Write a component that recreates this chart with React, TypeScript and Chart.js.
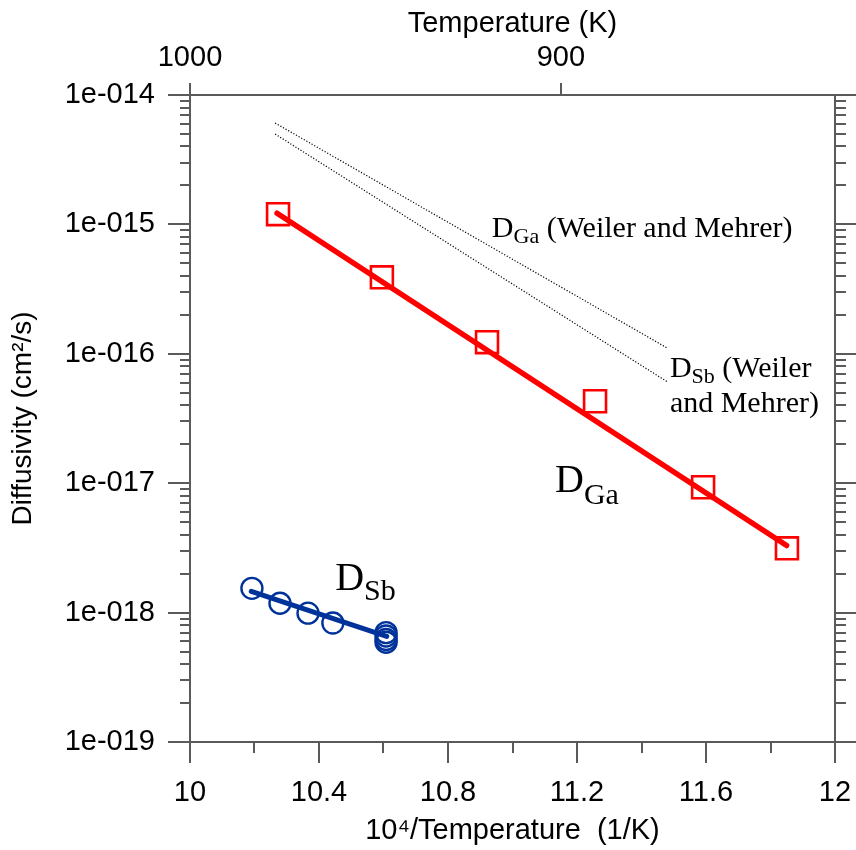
import React, { useEffect, useRef } from 'react';
import { Chart, registerables } from 'chart.js';

Chart.register(...registerables);

// ---- data ----
const gaX = [10.273, 10.595, 10.921, 11.256, 11.591, 11.851];
const gaY = [1.2e-15, 3.9e-16, 1.23e-16, 4.3e-17, 9.3e-18, 3.14e-18];
const gaFitX = [10.27, 11.85];
const gaFitY = [1.22e-15, 3.3e-18];

const sbX = [10.192, 10.279, 10.366, 10.443, 10.608, 10.608, 10.608, 10.608];
const sbY = [1.54e-18, 1.18e-18, 9.9e-19, 8.3e-19, 7.0e-19, 6.6e-19, 6.2e-19, 5.9e-19];
const sbFitX = [10.19, 10.61];
const sbFitY = [1.46e-18, 6.55e-19];

const wmGaX = [10.264, 11.482];
const wmGaY = [6.07e-15, 1.1e-16];
const wmSbX = [10.264, 11.482];
const wmSbY = [4.99e-15, 6.03e-17];

// ---- axes ----
const xMin = 10;
const xMax = 12;
const xMajorTicks = [10, 10.4, 10.8, 11.2, 11.6, 12];
const xTickLabels = ['10', '10.4', '10.8', '11.2', '11.6', '12'];
const xMinorTicks = [10.2, 10.6, 11.0, 11.4, 11.8];
const yMin = 1e-19;
const yMax = 1e-14;
const yDecades = [1e-19, 1e-18, 1e-17, 1e-16, 1e-15, 1e-14];
const yTickLabels = ['1e-019', '1e-018', '1e-017', '1e-016', '1e-015', '1e-014'];
const topTickValues = [10, 11.15];
const topTickLabels = ['1000', '900'];

const xTitle = '10\u2074/Temperature  (1/K)';
const yTitle = 'Diffusivity (cm\u00b2/s)';
const topTitle = 'Temperature (K)';

// annotation anchors (data coordinates of the baseline start)
const annWmGa = { main: 'D', sub: 'Ga', rest: ' (Weiler and Mehrer)', x: 10.936, y: 7.98e-16 };
const annWmSb = { main: 'D', sub: 'Sb', rest: ' (Weiler', x: 11.488, y: 6.59e-17 };
const annWmSb2 = { text: 'and Mehrer)', x: 11.488, y: 3.53e-17 };
const annGa = { main: 'D', sub: 'Ga', rest: '', x: 11.132, y: 8.5e-18 };
const annSb = { main: 'D', sub: 'Sb', rest: '', x: 10.45, y: 1.486e-18 };

const SANS = '"Liberation Sans", Arial, sans-serif';
const SERIF = '"Liberation Serif", "Times New Roman", serif';
const RED = '#ff0000';
const BLUE = '#003399';
const AXIS = '#5a5a5a';

function pts(xs: number[], ys: number[]) {
  return xs.map((x, i) => ({ x, y: ys[i] }));
}

const framePlugin = {
  id: 'frame',
  afterDraw(chart: any) {
    const { ctx, chartArea: a, scales } = chart;
    const xs = scales.x;
    const ys = scales.y;
    ctx.save();
    ctx.strokeStyle = AXIS;
    ctx.lineWidth = 2;
    ctx.beginPath();
    ctx.rect(a.left, a.top, a.right - a.left, a.bottom - a.top);
    for (let d = -19; d <= -14; d++) {
      for (let m = 1; m <= 9; m++) {
        if (d === -14 && m > 1) break;
        const v = m * Math.pow(10, d);
        const py = Math.round(ys.getPixelForValue(v));
        const major = m === 1;
        ctx.moveTo(a.left - (major ? 22 : 10), py);
        ctx.lineTo(a.left, py);
        ctx.moveTo(a.right, py);
        ctx.lineTo(a.right + (major ? 21 : 11), py);
      }
    }
    xMajorTicks.forEach((v) => {
      const px = Math.round(xs.getPixelForValue(v));
      ctx.moveTo(px, a.bottom);
      ctx.lineTo(px, a.bottom + 21);
    });
    xMinorTicks.forEach((v) => {
      const px = Math.round(xs.getPixelForValue(v));
      ctx.moveTo(px, a.bottom);
      ctx.lineTo(px, a.bottom + 11);
    });
    topTickValues.forEach((v) => {
      const px = Math.round(xs.getPixelForValue(v));
      ctx.moveTo(px, a.top);
      ctx.lineTo(px, a.top - 12);
    });
    ctx.stroke();
    ctx.restore();

    // annotations
    ctx.save();
    ctx.fillStyle = '#000';
    ctx.textBaseline = 'alphabetic';
    ctx.textAlign = 'left';
    const drawSub = (o: any, mainPx: number, subPx: number, dy: number) => {
      const x = xs.getPixelForValue(o.x);
      const y = ys.getPixelForValue(o.y);
      ctx.font = `${mainPx}px ${SERIF}`;
      ctx.fillText(o.main, x, y);
      let w = ctx.measureText(o.main).width;
      ctx.font = `${subPx}px ${SERIF}`;
      ctx.fillText(o.sub, x + w, y + dy);
      w += ctx.measureText(o.sub).width;
      if (o.rest) {
        ctx.font = `${mainPx}px ${SERIF}`;
        ctx.fillText(o.rest, x + w, y);
      }
    };
    drawSub(annWmGa, 30, 22, 6);
    drawSub(annWmSb, 30, 22, 6);
    ctx.font = `30px ${SERIF}`;
    ctx.fillText(annWmSb2.text, xs.getPixelForValue(annWmSb2.x), ys.getPixelForValue(annWmSb2.y));
    drawSub(annGa, 40, 30, 12);
    drawSub(annSb, 40, 30, 10);
    ctx.restore();
  },
};

export default function App() {
  const ref = useRef<HTMLCanvasElement | null>(null);
  useEffect(() => {
    document.body.style.margin = '0';
    const canvas = ref.current;
    if (!canvas) return;
    const chart = new Chart(canvas, {
      type: 'scatter',
      data: {
        datasets: [
          { label: 'Ga fit', data: pts(gaFitX, gaFitY), showLine: true, borderColor: RED, borderWidth: 5.5, borderCapStyle: 'round', pointRadius: 0 },
          { label: 'Sb fit', data: pts(sbFitX, sbFitY), showLine: true, borderColor: BLUE, borderWidth: 5, borderCapStyle: 'round', pointRadius: 0 },
          { label: 'Ga', data: pts(gaX, gaY), pointStyle: 'rect', pointRadius: 15.5, borderColor: RED, borderWidth: 2.6, backgroundColor: 'rgba(0,0,0,0)' },
          { label: 'Sb', data: pts(sbX, sbY), pointStyle: 'circle', pointRadius: 10.5, borderColor: BLUE, borderWidth: 2.4, backgroundColor: 'rgba(0,0,0,0)' },
          { label: 'Ga W&M', data: pts(wmGaX, wmGaY), showLine: true, borderColor: '#000', borderWidth: 1.2, borderDash: [1.2, 1.8], pointRadius: 0 },
          { label: 'Sb W&M', data: pts(wmSbX, wmSbY), showLine: true, borderColor: '#000', borderWidth: 1.2, borderDash: [1.2, 1.8], pointRadius: 0 },
        ],
      },
      options: {
        responsive: false,
        animation: false,
        devicePixelRatio: 1,
        layout: { padding: 0 },
        plugins: { legend: { display: false }, tooltip: { enabled: false } },
        scales: {
          x: {
            type: 'linear', position: 'bottom', min: xMin, max: xMax,
            afterBuildTicks: (s: any) => { s.ticks = xMajorTicks.map((v) => ({ value: v })); },
            ticks: { autoSkip: false, maxRotation: 0, padding: 26, color: '#000', font: { family: SANS, size: 29 }, callback: (_v: any, i: number) => xTickLabels[i] },
            grid: { display: false }, border: { display: false },
            title: { display: true, text: xTitle, color: '#000', font: { family: SANS, size: 29 }, padding: { top: 0, bottom: 2 } },
            afterFit: (s: any) => { s.height = 108; s.paddingLeft = 0; s.paddingRight = 0; },
          },
          x2: {
            type: 'linear', position: 'top', min: xMin, max: xMax,
            afterBuildTicks: (s: any) => { s.ticks = topTickValues.map((v) => ({ value: v })); },
            ticks: { autoSkip: false, maxRotation: 0, padding: 12, color: '#000', font: { family: SANS, size: 29 }, callback: (_v: any, i: number) => topTickLabels[i] },
            grid: { display: false }, border: { display: false },
            title: { display: true, text: topTitle, color: '#000', font: { family: SANS, size: 29 }, padding: { top: 7, bottom: 0 } },
            afterFit: (s: any) => { s.height = 95; s.paddingLeft = 0; s.paddingRight = 0; },
          },
          y: {
            type: 'logarithmic', position: 'left', min: yMin, max: yMax,
            afterBuildTicks: (s: any) => { s.ticks = yDecades.map((v) => ({ value: v })); },
            ticks: { autoSkip: false, padding: 27, color: '#000', font: { family: SANS, size: 29 }, callback: (_v: any, i: number) => yTickLabels[i] },
            grid: { display: false }, border: { display: false },
            title: { display: true, text: yTitle, color: '#000', font: { family: SANS, size: 28 }, padding: { top: 6, bottom: 0 } },
            afterFit: (s: any) => { s.width = 190; s.paddingTop = 0; s.paddingBottom = 0; },
          },
          y2: {
            type: 'logarithmic', position: 'right', min: yMin, max: yMax,
            ticks: { display: false }, grid: { display: false }, border: { display: false },
            afterFit: (s: any) => { s.width = 21; s.paddingTop = 0; s.paddingBottom = 0; },
          },
        },
      },
      plugins: [framePlugin],
    } as any);
    return () => chart.destroy();
  }, []);
  return (
    <div style={{ width: 856, height: 850 }}>
      <canvas ref={ref} width={856} height={850} style={{ display: 'block' }} />
    </div>
  );
}
